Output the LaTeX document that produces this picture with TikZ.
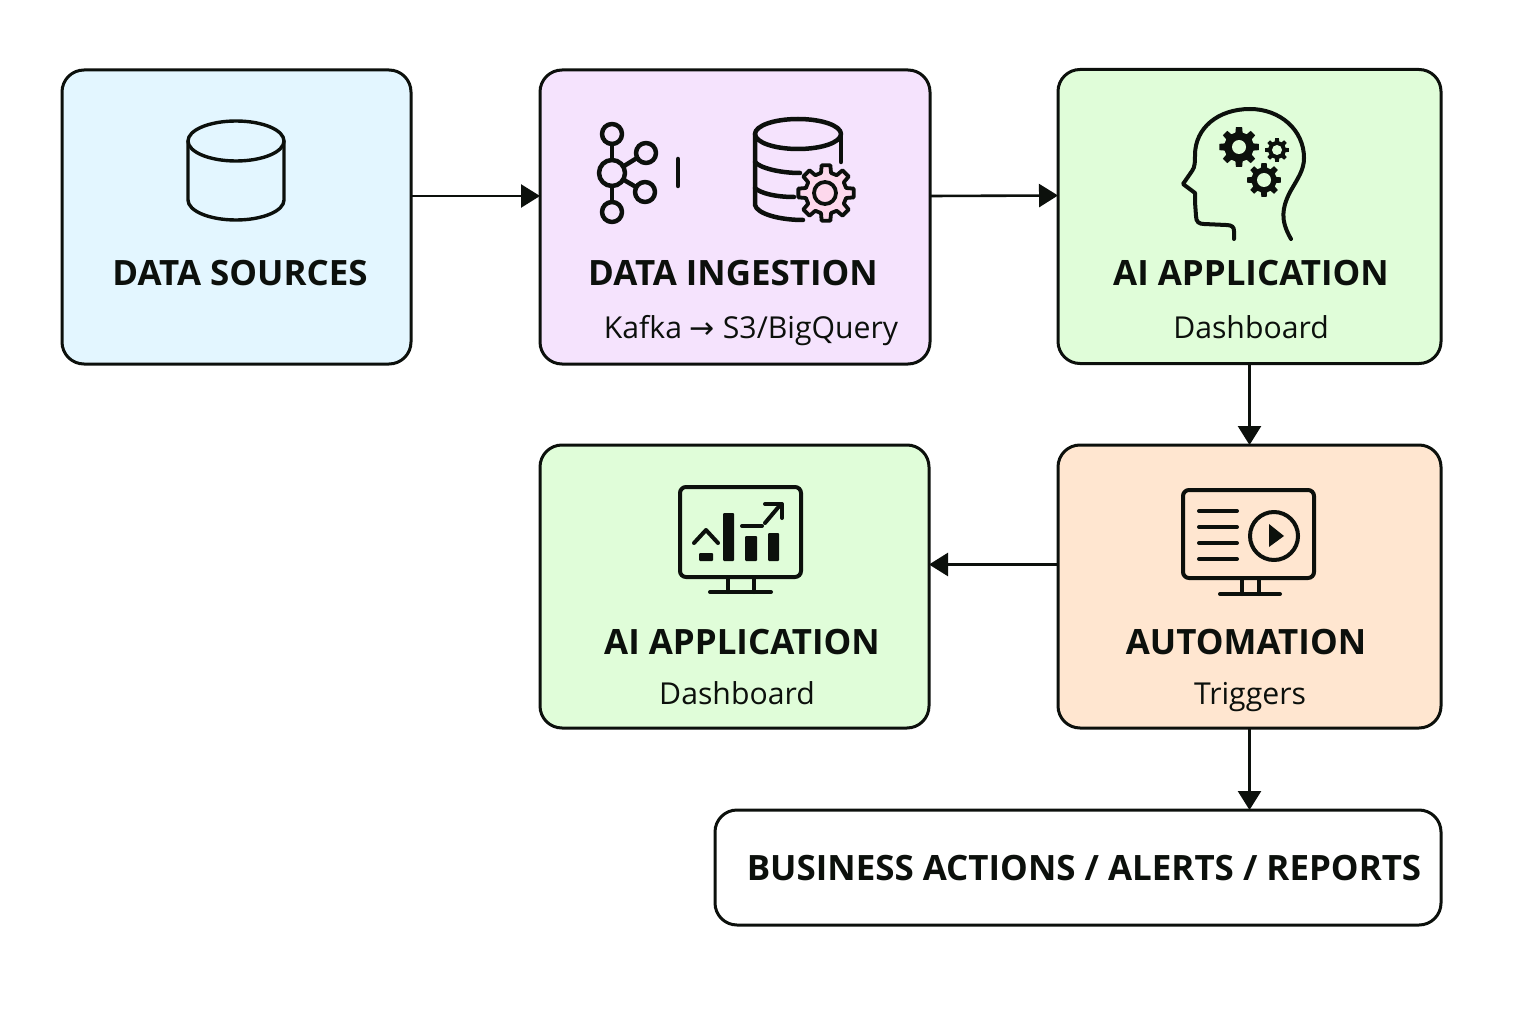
\documentclass[tikz,border=0pt]{standalone}
\usepackage{fontspec}
\setmainfont{Open Sans}
\newfontfamily\arrowfont{DejaVu Sans}
\usetikzlibrary{arrows.meta}
\definecolor{ink}{HTML}{0C100C}
\definecolor{srcblue}{HTML}{E3F6FF}
\definecolor{ingestpurple}{HTML}{F5E3FD}
\definecolor{appgreen}{HTML}{E0FDD9}
\definecolor{autoorange}{HTML}{FFE6D0}
\definecolor{gearpink}{HTML}{FDD8EC}
\newcommand{\boxline}{3pt}
\newcommand{\iconline}{4.5pt}
\newcommand{\gear}[4][]{
\begin{scope}[shift={(#2,#3)}]
\path[#1] (-14:0.74*#4) \foreach \a in {0,45,...,315} { -- ({\a-14}:{0.74*#4}) -- ({\a-9}:#4) -- ({\a+9}:#4) -- ({\a+14}:{0.74*#4}) } -- cycle;
\end{scope}
}
\tikzset{
card/.style={draw=ink, line width=\boxline, rounded corners=22pt, outer sep=0pt, inner sep=0pt},
title/.style={font=\fontsize{34.9}{35}\selectfont\bfseries, text=ink, inner sep=0pt},
subtitle/.style={font=\fontsize{30.2}{32}\selectfont, text=ink, inner sep=0pt, text height=23pt, text depth=0pt},
link/.style={draw=ink, line width=2.6pt, -{Triangle[length=19pt,width=23pt]}},
icon/.style={draw=ink, line width=\iconline, line cap=round, line join=round},
}
\begin{document}
\begin{tikzpicture}[x=1pt,y=-1pt]
\useasboundingbox (0,0) rectangle (1536,1024);
%boxes
\node[card, fill=srcblue, minimum width=349pt, minimum height=294pt] (src) at (236.5,217) {};
\node[card, fill=ingestpurple, minimum width=390pt, minimum height=294pt] (ingest) at (735,217) {};
\node[card, fill=appgreen, minimum width=383pt, minimum height=294pt] (app) at (1249.5,216.5) {};
\node[card, fill=appgreen, minimum width=389pt, minimum height=283pt] (dash) at (734.5,586.5) {};
\node[card, fill=autoorange, minimum width=383pt, minimum height=283pt] (auto) at (1249.5,586.5) {};
\node[card, fill=white, minimum width=726pt, minimum height=115pt] (biz) at (1078,867.5) {};
%texts
\node[title] (srctitle) at (240,273) {DATA SOURCES};
\node[title] (ingesttitle) at (733,273) {DATA INGESTION};
\node[subtitle] (ingestsub) at (751,327) {Kafka {\arrowfont\fontsize{30}{30}\selectfont →} S3/BigQuery};
\node[title] (apptitle) at (1251,273) {AI APPLICATION};
\node[subtitle] (appsub) at (1251,327) {Dashboard};
\node[title] (dashtitle) at (742,642) {AI APPLICATION};
\node[subtitle] (dashsub) at (737,693) {Dashboard};
\node[title] (autotitle) at (1246,642) {AUTOMATION};
\node[subtitle] (autosub) at (1250,693) {Triggers};
\node[title] (biztitle) at (1084,868) {BUSINESS ACTIONS / ALERTS / REPORTS};
%links
\draw[link] ([yshift=21pt]src.east) -- ([yshift=21pt]ingest.west);
\draw[link] ([yshift=21pt]ingest.east) -- ([yshift=21pt]app.west);
\draw[link] (app.south) -- (auto.north);
\draw[link] ([yshift=22pt]auto.west) -- ([yshift=22pt]dash.east);
\draw[link] (auto.south) -- (auto.south |- biz.north);
%cylinder
\draw[icon, line width=3.4pt] (236,141) ellipse (48pt and 20pt);
\draw[icon, line width=3.4pt] (188,141) -- (188,200) arc[start angle=180, end angle=360, x radius=48pt, y radius=20pt] -- (284,141);
%kafka
\draw[icon] (612,173) circle (13pt);
\draw[icon] (612,134) circle (10pt);
\draw[icon] (612,212) circle (10pt);
\draw[icon] (646,153) circle (10pt);
\draw[icon] (645,192) circle (10pt);
\draw[icon] (612,144) -- (612,160);
\draw[icon] (612,186) -- (612,202);
\draw[icon] (624,166) -- (637,158);
\draw[icon] (624,180) -- (636,187);
\draw[icon] (678,159) -- (678,186);
%database
\draw[icon] (798,134) ellipse (43pt and 15pt);
\draw[icon] (841,134) -- (841,162);
\draw[icon] (755,134) -- (755,205) .. controls (757,214) and (780,220) .. (803,220);
\draw[icon] (755,162) .. controls (760,168) and (780,173) .. (800,173);
\draw[icon] (755,188) .. controls (760,193) and (775,197) .. (794,197);
\gear[draw=ink, fill=gearpink, line width=3.8pt, line join=round]{826}{193}{28}
\draw[icon, fill=gearpink, line width=3.8pt] (825,193) circle (11pt);
%head
\draw[icon, line width=4pt] (1291,239) .. controls (1280,220) and (1282,208) .. (1290,192) .. controls (1298,178) and (1304,170) .. (1304,158) .. controls (1304,130) and (1280,109) .. (1250,109) .. controls (1218,109) and (1195,128) .. (1195,155) .. controls (1195,162) and (1195,167) .. (1192,171) -- (1183,184) -- (1195,193) -- (1195,202) -- (1196,216) .. controls (1196,222) and (1199,224) .. (1204,224) -- (1226,225) .. controls (1232,225) and (1234,227) .. (1234,231) -- (1234,239);
\gear[fill=ink]{1239}{147}{20}
\fill[appgreen] (1239,147) circle (7pt);
\gear[fill=ink]{1277}{150}{12}
\fill[appgreen] (1277,150) circle (5pt);
\gear[fill=ink]{1264}{180}{17}
\fill[appgreen] (1264,180) circle (7pt);
%chart monitor
\draw[icon, rounded corners=6pt, line width=4pt] (680,487) rectangle (801,577);
\draw[icon, line width=4pt] (728,577) -- (728,592);
\draw[icon, line width=4pt] (754,577) -- (754,592);
\draw[icon, line width=4pt] (710,592) -- (771,592);
\draw[icon, line width=4pt] (694,543) -- (706,530) -- (718,543);
\fill[ink, rounded corners=1pt] (699,553) rectangle (713,561);
\fill[ink, rounded corners=1pt] (723,513) rectangle (734,561);
\fill[ink, rounded corners=1pt] (745,536) rectangle (757,561);
\fill[ink, rounded corners=1pt] (768,533) rectangle (779,561);
\draw[icon, line width=4pt] (742,526) -- (762,526);
\draw[icon, line width=4pt] (765,523) -- (781,504);
\draw[icon, line width=4pt] (765,504) -- (782,504) -- (782,518);
%player monitor
\draw[icon, rounded corners=6pt, line width=4pt] (1183,490) rectangle (1314,578);
\draw[icon, line width=4pt] (1242,578) -- (1242,594);
\draw[icon, line width=4pt] (1259,578) -- (1259,594);
\draw[icon, line width=4pt] (1220,594) -- (1280,594);
\draw[icon, line width=4pt] (1199,511) -- (1237,511);
\draw[icon, line width=4pt] (1199,527) -- (1237,527);
\draw[icon, line width=4pt] (1199,543) -- (1237,543);
\draw[icon, line width=4pt] (1199,559) -- (1237,559);
\draw[icon, line width=4pt] (1274,536) circle (24pt);
\fill[ink] (1269,524) -- (1284,536) -- (1269,547) -- cycle;
\end{tikzpicture}
\end{document}
